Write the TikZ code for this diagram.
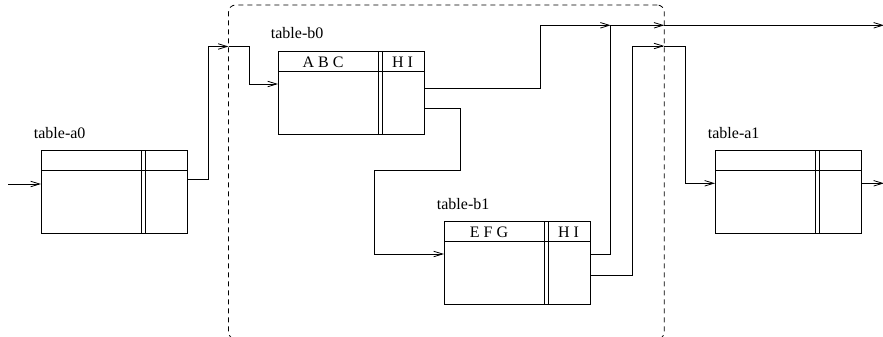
\documentclass[tikz,border=0pt]{standalone}
\usepackage{fontspec}
\setmainfont{Liberation Serif}
\usetikzlibrary{arrows.meta}
\begin{document}
\begin{tikzpicture}[x=1pt,y=-1pt,
  line width=0.8pt,
  tbl/.style={draw, rectangle, anchor=north west, minimum width=146pt, minimum height=83pt, inner sep=0pt, outer sep=0pt},
  grp/.style={draw, dash pattern=on 5pt off 4pt, rounded corners=7pt, anchor=north west, minimum width=435.8pt, minimum height=334pt, inner sep=0pt, outer sep=0pt},
  arr/.style={-{Straight Barb[length=9pt,width=5.5pt]}},
  lbl/.style={anchor=base west, inner sep=0pt, font=\fontsize{16}{19}\selectfont},
  hdr/.style={anchor=base, inner sep=0pt, font=\fontsize{16}{19}\selectfont},
]
\useasboundingbox (0,0) rectangle (883,337);
\clip (0,0) rectangle (883,337);

\newcommand\dbtable[4]{%
  \node[tbl] (#1) at (#2,#3) {};
  \node[lbl] (#1-lbl) at ([xshift=-7.5pt,yshift=12pt]#1.north west) {#4};
  \draw ([yshift=-20pt]#1.north west) -- ([yshift=-20pt]#1.north east);
  \draw ([xshift=100pt]#1.north west) -- ([xshift=100pt]#1.south west);
  \draw ([xshift=104pt]#1.north west) -- ([xshift=104pt]#1.south west);
}
\newcommand\dbhead[3]{%
  \node[hdr] (#1-c1) at ([xshift=45pt,yshift=-16pt]#1.north west) {#2};
  \node[hdr] (#1-c2) at ([xshift=124.5pt,yshift=-16pt]#1.north west) {#3};
}

% group box
\node[grp] (grp) at (228.5,5) {};

% tables
\dbtable{a0}{41}{150}{table-a0}
\dbtable{b0}{278}{51}{table-b0}
\dbhead{b0}{A B C}{H I}
\dbtable{b1}{444}{221}{table-b1}
\dbhead{b1}{E F G}{H I}
\dbtable{a1}{715}{150}{table-a1}

% coordinates
\coordinate (in0) at (8,184);
\coordinate (p1) at (208,46.5);
\coordinate (p2) at (249,46.5);
\coordinate (p3) at (540.7,25.3);
\coordinate (p4) at (610.7,25.3);
\coordinate (p5) at (460.7,170.7);
\coordinate (p6) at (374,170.7);
\coordinate (p7) at (632.3,46);
\coordinate (p8) at (685.7,46);
\coordinate (e1) at (884,25.3);
\coordinate (e2) at (884,183.3);

% connectors
\draw[arr] (in0) -- (in0 -| a0.west);
\draw[arr] ([yshift=-29.3pt]a0.north east) -| (p1) -- (p1 -| grp.west);
\draw[arr] (p1 -| grp.west) -- (p2) |- ([yshift=-33pt]b0.north west);
\draw[arr] ([yshift=-37.3pt]b0.north east) -| (p3) -- (p4);
\draw[arr] ([yshift=-57.3pt]b0.north east) -| (p5) -- (p6) |- ([yshift=-33pt]b1.north west);
\draw[arr] ([yshift=-33pt]b1.north east) -| (p4) -- (p4 -| grp.east);
\draw[arr] (p4 -| grp.east) -- (e1);
\draw[arr] ([yshift=-54pt]b1.north east) -| (p7) -- (p7 -| grp.east);
\draw[arr] (p7 -| grp.east) -- (p8) |- ([yshift=-33.3pt]a1.north west);
\draw[arr] ([yshift=-33.3pt]a1.north east) -- (e2);
\end{tikzpicture}
\end{document}
